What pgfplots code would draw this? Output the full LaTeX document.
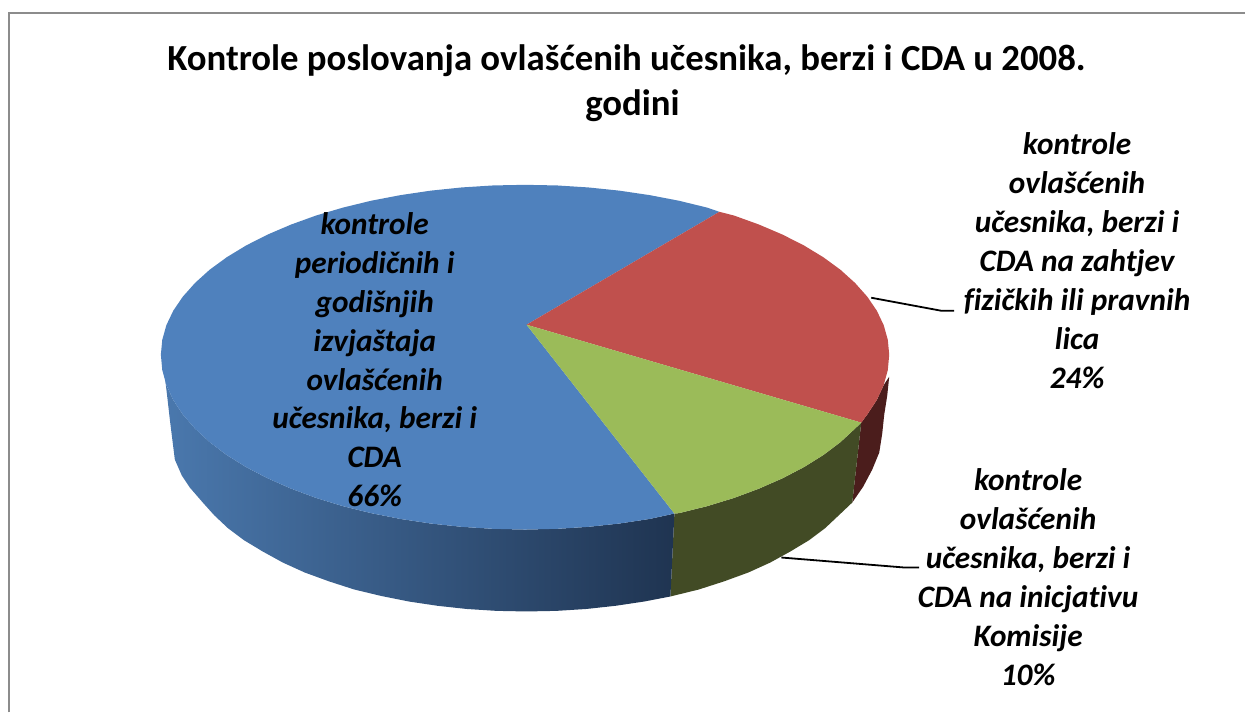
\documentclass[border=0pt]{standalone}
\usepackage{pgfplots}
\pgfplotsset{compat=1.18}
\usepackage{fontspec}
\setmainfont{Carlito}[Ligatures=NoCommon]
\definecolor{pieblue}{HTML}{4F81BD}
\definecolor{piered}{HTML}{C0504D}
\definecolor{piegreen}{HTML}{9BBB59}
\definecolor{sidered}{HTML}{4B1D1C}
\definecolor{sidegreen}{HTML}{424B25}
\definecolor{sidebl}{HTML}{4A78AD}
\definecolor{sidebm}{HTML}{3A5F8E}
\definecolor{sidebr}{HTML}{1F3451}
\definecolor{framegray}{HTML}{8C8C8C}
\tikzset{labelb/.style={font=\bfseries\itshape\fontsize{31.3}{39}\selectfont, align=center, text=black, inner sep=0pt}}
\begin{document}
\begin{tikzpicture}
\begin{axis}[
  scale only axis, width=1246pt, height=713pt,
  xmin=0, xmax=1246, ymin=0, ymax=713, y dir=reverse,
  hide axis, clip=false,
  every axis plot/.append style={forget plot},
]
\path (axis cs:0,0) rectangle (axis cs:1246,713);
% frame
\addplot[draw=framegray, line width=2.2pt] coordinates {(9,713)(9,13)(1246,13)};
% sides
\addplot[draw=none, fill=sidered] coordinates {
 (862,423)(868,414.9)(877.6,400.3)(884.5,385.4)(890,377)(888,396)(885,415)(883,434)(880,453)(873,470)(864,487)(853,503)} --cycle;
\addplot[draw=none, fill=sidegreen] coordinates {
 (675,514)(679.5,513.6)(707.8,506.6)(734.6,498.4)(759.8,489)(783.2,478.7)(804.7,467.5)(824.1,455.4)(841.2,442.5)(855.8,429)(862,423)(853,503)(839.7,515.6)(826,528.5)(809.6,540.8)(791,552)(771,563)(749,573)(724.9,581.8)(699.5,590)(671,597)} --cycle;
\addplot[draw=none, left color=sidebl, middle color=sidebm, right color=sidebr] coordinates {
 (675,514)(650.2,519.4)(619.8,524)(588.8,527.3)(557.3,529.3)(525.5,530)(493.7,529.3)(462.2,527.3)(431.2,524)(400.8,519.4)(371.5,513.6)(343.2,506.6)(316.4,498.4)(291.2,489)(267.8,478.7)(246.3,467.5)(226.9,455.4)(209.8,442.5)(195.2,429)(183,414.9)(173.4,400.3)(166.5,385.4)(165,377)(167.5,398)(170,420)(172.5,440)(175,460)(182,476)(190,488)(203,503)(214.3,515.6)(228,528.5)(244.4,540.8)(263,552)(283,563)(305,573)(329.1,581.8)(354.5,590)(381.2,596.4)(409,602)(437.7,606.3)(467,609.5)(496.9,611.4)(527,612)(557.1,611.4)(587,609.5)(616.3,606.3)(645,602)(671,597)} --cycle;
% top wedges
\addplot[draw=none, fill=pieblue] coordinates {
 (527,325)(720,212)(707.8,207.8)(679.5,200.9)(650.2,195.3)(619.8,190.8)(588.8,187.6)(557.3,185.6)(525.5,185)(493.7,185.6)(462.2,187.6)(431.2,190.8)(400.8,195.3)(371.5,200.9)(343.2,207.8)(316.4,215.7)(291.2,224.8)(267.8,234.8)(246.3,245.7)(226.9,257.5)(209.8,270)(195.2,283.2)(183,296.9)(173.4,311)(166.5,325.5)(162.4,340.2)(161,355)(162.4,370.3)(166.5,385.4)(173.4,400.3)(183,414.9)(195.2,429)(209.8,442.5)(226.9,455.4)(246.3,467.5)(267.8,478.7)(291.2,489)(316.4,498.4)(343.2,506.6)(371.5,513.6)(400.8,519.4)(431.2,524)(462.2,527.3)(493.7,529.3)(525.5,530)(557.3,529.3)(588.8,527.3)(619.8,524)(650.2,519.4)(675,514)} --cycle;
\addplot[draw=none, fill=piered] coordinates {
 (527,325)(720,212)(734.6,215.7)(759.8,224.8)(783.2,234.8)(804.7,245.7)(824.1,257.5)(841.2,270)(855.8,283.2)(868,296.9)(877.6,311)(884.5,325.5)(888.6,340.2)(890,355)(888.6,370.3)(884.5,385.4)(877.6,400.3)(868,414.9)(862,423)} --cycle;
\addplot[draw=none, fill=piegreen] coordinates {
 (527,325)(862,423)(855.8,429)(841.2,442.5)(824.1,455.4)(804.7,467.5)(783.2,478.7)(759.8,489)(734.6,498.4)(707.8,506.6)(679.5,513.6)(675,514)} --cycle;
% leader lines
\addplot[draw=black, line width=1.8pt] coordinates {(872,298)(942,311)(955,311)};
\addplot[draw=black, line width=1.8pt] coordinates {(782,558)(905,568)(920,568)};
% texts
\node[font=\bfseries\fontsize{36.8}{45}\selectfont, align=center, inner sep=0pt] at (axis cs:627,83) {Kontrole poslovanja ovlašćenih učesnika, berzi i CDA u 2008.\\\hspace*{12pt}godini};
\node[labelb] at (axis cs:375,360) {kontrole\\periodičnih i\\godišnjih\\izvjaštaja\\ovlašćenih\\učesnika, berzi i\\CDA\\66\%};
\node[labelb] at (axis cs:1078,261) {kontrole\\ovlašćenih\\učesnika, berzi i\\CDA na zahtjev\\fizičkih ili pravnih\\lica\\24\%};
\node[labelb] at (axis cs:1029,578) {kontrole\\ovlašćenih\\učesnika, berzi i\\CDA na inicjativu\\Komisije\\10\%};
\end{axis}
\end{tikzpicture}
\end{document}
